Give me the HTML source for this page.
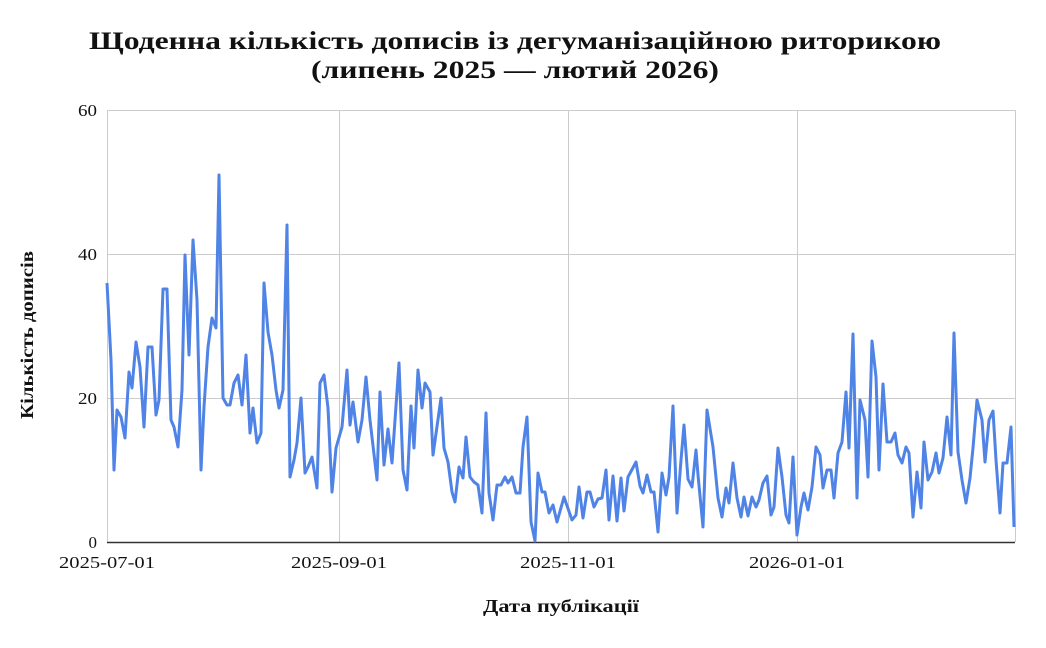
<!DOCTYPE html>
<html><head><meta charset="utf-8">
<style>
html,body{margin:0;padding:0;background:#fff;}
svg{display:block;}
text{font-family:"Liberation Serif","DejaVu Serif",serif;fill:#111;}
</style></head>
<body>
<svg width="1046" height="648" viewBox="0 0 1046 648" xmlns="http://www.w3.org/2000/svg">
<rect width="1046" height="648" fill="#fff"/>
<text x="515" y="49" text-anchor="middle" font-size="25" font-weight="bold" textLength="852" lengthAdjust="spacingAndGlyphs">Щоденна кількість дописів із дегуманізаційною риторикою</text>
<text x="515" y="78" text-anchor="middle" font-size="25" font-weight="bold" textLength="408" lengthAdjust="spacingAndGlyphs">(липень 2025 — лютий 2026)</text>
<g stroke="#cccccc" stroke-width="1">
<line x1="107" y1="110.5" x2="1015" y2="110.5"/>
<line x1="107" y1="254.5" x2="1015" y2="254.5"/>
<line x1="107" y1="398.5" x2="1015" y2="398.5"/>
<line x1="107.5" y1="110" x2="107.5" y2="542"/>
<line x1="339.5" y1="110" x2="339.5" y2="542"/>
<line x1="568.5" y1="110" x2="568.5" y2="542"/>
<line x1="797.5" y1="110" x2="797.5" y2="542"/>
<line x1="1015.5" y1="110" x2="1015.5" y2="542"/>
</g>
<line x1="107" y1="542.5" x2="1015" y2="542.5" stroke="#333" stroke-width="1.5"/>
<g font-size="17" text-anchor="end">
<text x="97" y="116" textLength="19" lengthAdjust="spacingAndGlyphs">60</text>
<text x="97" y="260" textLength="19" lengthAdjust="spacingAndGlyphs">40</text>
<text x="97" y="404" textLength="19" lengthAdjust="spacingAndGlyphs">20</text>
<text x="97" y="548">0</text>
</g>
<g font-size="17" text-anchor="middle">
<text x="107" y="568" textLength="96" lengthAdjust="spacingAndGlyphs">2025-07-01</text>
<text x="339" y="568" textLength="96" lengthAdjust="spacingAndGlyphs">2025-09-01</text>
<text x="568" y="568" textLength="96" lengthAdjust="spacingAndGlyphs">2025-11-01</text>
<text x="797" y="568" textLength="96" lengthAdjust="spacingAndGlyphs">2026-01-01</text>
</g>
<text x="561" y="612" text-anchor="middle" font-size="18" font-weight="bold" textLength="156" lengthAdjust="spacingAndGlyphs">Дата публікації</text>
<text transform="translate(33,335) rotate(-90)" text-anchor="middle" font-size="18" font-weight="bold" textLength="168" lengthAdjust="spacingAndGlyphs">Кількість дописів</text>
<polyline fill="none" stroke="#4f83e6" stroke-width="3" stroke-linejoin="round" points="
107,283 111,360 114,470 117,410 121,417 125,438 129,372 132,388 136,342 140,367 144,427 148,347 152,347 156,415 159,400 163,289 167,289 171,420 174,427 178,447 182,390 185,255 189,355 193,240 197,300 201,470 204,407 208,347 212,318 216,328 219,175 223,398 227,405 230,405 234,383 238,375 242,405 246,355 250,433 253,408 257,443 261,433 264,283 268,332 272,355 276,390 279,408 283,390 287,225 290,477 294,460 297,443 301,398 305,473 308,467 312,457 317,488 320,383 324,375 328,408 332,492 336,448
342,427 347,370 350,425 353,402 358,442 362,420 366,377 370,420 377,480 380,392 384,465 388,429 392,463 399,363 403,470 407,490 411,406 414,448 418,370 422,408 425,383 430,392 433,455 441,398 444,448 448,462 452,492 455,502 459,467 463,478 466,437 470,477 474,482 478,485 482,513 486,413 489,493 493,520 497,485 501,485 505,477 508,483 512,477 516,493 520,493 523,447 527,417 531,522 535,541 538,473 542,492 545,492 549,513 553,505 557,522 564,497 572,520
576,515 579,487 583,518 587,492 590,492 594,507 598,499 602,498 606,470 609,520 613,476 617,521 621,478 624,511 628,477 636,462 640,486 643,493 647,475 651,492 654,492 658,532 662,473 666,495 669,477 673,406 677,513 681,460 684,425 688,479 692,487 696,450 698,475 703,527 707,410 713,447 718,498 722,517 726,488 729,503 733,463 737,498 741,517 744,497 748,516 752,497 756,507 759,500 763,483 767,476 771,515 774,507 778,448 782,477 786,515 789,523 793,457 797,535
801,507 804,493 808,510 812,487 816,447 820,455 823,488 827,470 831,470 834,498 838,453 842,442 846,392 849,448 853,334 857,498 860,400 865,420 868,477 872,341 876,377 879,470 883,384 887,442 891,442 895,433 898,455 902,463 906,447 909,453 913,517 917,472 921,508 924,442 928,480 932,472 936,453 939,473 943,458 947,417 951,455 954,333 958,452 962,480 966,503 970,478 973,448 977,400 982,420 985,462 989,420 993,411 996,460 1000,513 1003,463 1007,463 1011,427 1014,527"/>
</svg>
</body></html>
